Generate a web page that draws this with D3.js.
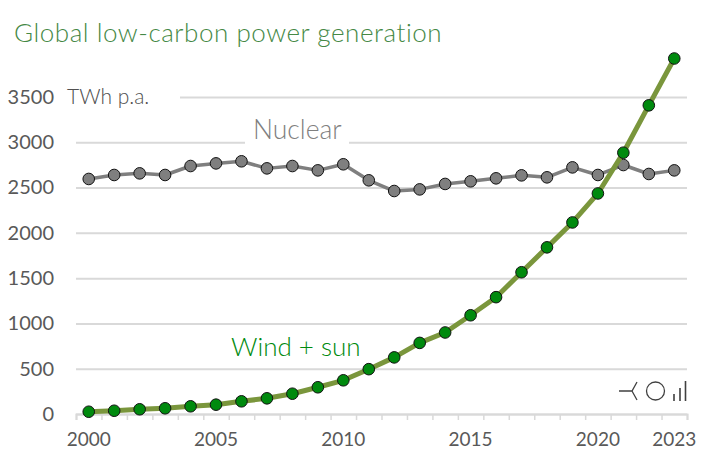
<!DOCTYPE html>
<html>
<head>
<meta charset="utf-8">
<script src="https://cdn.jsdelivr.net/npm/d3@7"></script>
<style>
  html, body { margin: 0; padding: 0; background: #fff; }
  svg { display: block; font-family: Lato, sans-serif; }
</style>
</head>
<body>
<svg id="chart"></svg>
<script>
// Chart data
const years = d3.range(2000, 2024);
const nuclear = [2595, 2639, 2657, 2639, 2738, 2767, 2790, 2712, 2738, 2690, 2757, 2580,
                 2462, 2480, 2540, 2569, 2602, 2635, 2613, 2723, 2639, 2749, 2650, 2690];
const windSun = [25, 36, 52, 63, 85, 103, 140, 173, 224, 295, 372, 495,
                 625, 785, 900, 1090, 1290, 1565, 1840, 2115, 2435, 2885, 3408, 3925];
const yTicks = [0, 500, 1000, 1500, 2000, 2500, 3000, 3500];
const xLabels = [2000, 2005, 2010, 2015, 2020, 2023];

const width = 711;
const height = 464;
const left = 76;
const right = 687;
const y0 = 414;
const y3500 = 97;

const svg = d3.select("#chart")
    .attr("width", width)
    .attr("height", height);

// Scales
const xBand = d3.scaleBand().domain(years).range([left, right]);
const xEdge = d3.scaleLinear().domain([0, years.length]).range([left, right]);
const x = d => xBand(d) + xBand.bandwidth() / 2;
const y = d3.scaleLinear().domain([0, 3500]).range([y0, y3500]);

// Gridlines and y labels
const yAxis = svg.append("g")
    .attr("transform", `translate(${left}, 0)`)
    .call(d3.axisLeft(y).tickValues(yTicks).tickSize(-(right - left)).tickPadding(22).tickFormat(d3.format("d")));
yAxis.select(".domain").remove();
yAxis.selectAll("line").attr("stroke", "#d9d9d9").attr("stroke-width", 2);
yAxis.selectAll("text").attr("fill", "#595959").style("font-size", "20px").style("font-family", "Lato, sans-serif");

// X axis: line with a tick at every band edge
const xEdges = svg.append("g")
    .attr("transform", `translate(0, ${y0})`)
    .call(d3.axisBottom(xEdge).tickValues(d3.range(0, years.length + 1)).tickSize(6).tickFormat(""));
xEdges.select(".domain").attr("stroke", "#d9d9d9").attr("stroke-width", 2);
xEdges.selectAll("line").attr("stroke", "#d9d9d9").attr("stroke-width", 1.5);

const xAxis = svg.append("g")
    .attr("transform", `translate(0, ${y0})`)
    .call(d3.axisBottom(xBand).tickValues(xLabels).tickSize(0).tickPadding(19).tickFormat(d3.format("d")));
xAxis.select(".domain").remove();
xAxis.selectAll("text").attr("fill", "#595959").style("font-size", "19px").style("font-family", "Lato, sans-serif");

// White patches behind the labels that interrupt the gridlines
svg.append("rect").attr("x", 60).attr("y", 86).attr("width", 120).attr("height", 24).attr("fill", "#fff");
svg.append("rect").attr("x", 245).attr("y", 116).attr("width", 104).attr("height", 30).attr("fill", "#fff");

// Series
const line = d3.line().x((d, i) => x(years[i])).y(d => y(d));

function drawSeries(values, lineColor, lineWidth, dotColor) {
    svg.append("path")
        .datum(values)
        .attr("d", line)
        .attr("fill", "none")
        .attr("stroke", lineColor)
        .attr("stroke-width", lineWidth)
        .attr("stroke-linejoin", "round");
    svg.append("g").selectAll("circle")
        .data(values)
        .enter()
        .append("circle")
        .attr("cx", (d, i) => x(years[i]))
        .attr("cy", d => y(d))
        .attr("r", 5.8)
        .attr("fill", dotColor)
        .attr("stroke", "#111")
        .attr("stroke-width", 1);
}

drawSeries(nuclear, "#7f7f7f", 3.5, "#7f7f7f");
drawSeries(windSun, "#7a963c", 5, "#008a0e");

// Text labels
svg.append("text").attr("x", 14).attr("y", 42)
    .style("font-size", "26px").style("font-weight", 300).style("letter-spacing", "0.54px")
    .attr("fill", "#458845").text("Global low-carbon power generation");
svg.append("text").attr("x", 67).attr("y", 104)
    .style("font-size", "21px").style("font-weight", 300)
    .attr("fill", "#505050").text("TWh p.a.");
svg.append("text").attr("x", 253).attr("y", 139)
    .style("font-size", "26.500px").style("font-weight", 300)
    .attr("fill", "#7f7f7f").text("Nuclear");
svg.append("text").attr("x", 231).attr("y", 356)
    .style("font-size", "26px").style("font-weight", 300)
    .attr("fill", "#008a0e").text("Wind + sun");

// Small logo, bottom right
const logo = svg.append("g").attr("fill", "none").attr("stroke", "#404040").attr("stroke-width", 1.3);
logo.append("path").attr("d", "M619 391H632L637 382M632 391L637 400");
logo.append("circle").attr("cx", 655.5).attr("cy", 391).attr("r", 9);
logo.append("path").attr("d", "M674 401V394M680 401V388M685.500 401V381").attr("stroke-width", 1.6);
</script>
</body>
</html>
